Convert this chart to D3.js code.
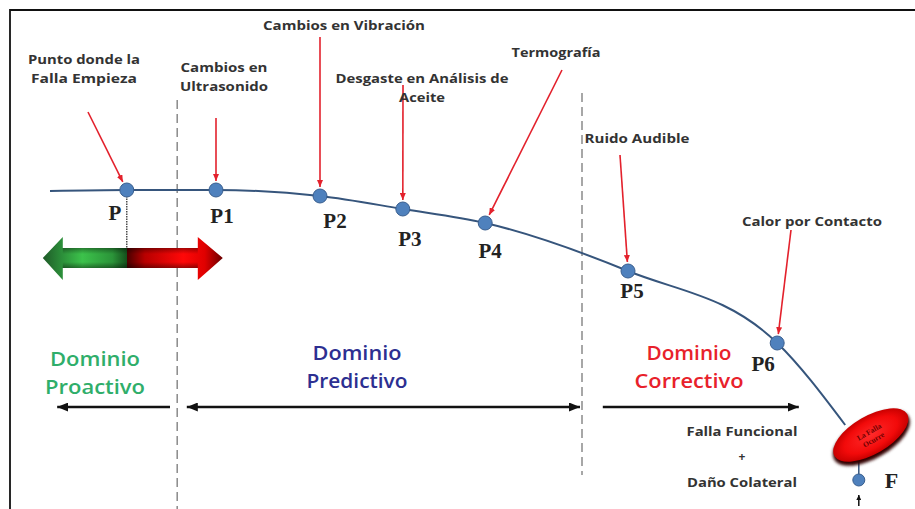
<!DOCTYPE html>
<html><head><meta charset="utf-8">
<script src="https://cdn.jsdelivr.net/npm/d3@7"></script>
<style>body{margin:0;background:#fff}svg{display:block}</style>
</head><body>
<svg id="chart" width="915" height="509"></svg>
<script>
// ---- data (time 0..100, condition 0..100) ----
const curveTime = [0, 9.6, 20.75, 33.75, 44.1, 54.4, 72.25, 90.9, 99.4];
const curveCondition = [99.6, 100, 100, 97.6, 92.4, 86.8, 67.6, 38.8, 6];
const pointLabels = ["P", "P1", "P2", "P3", "P4", "P5", "P6"];
const pointTime = [9.6, 20.75, 33.75, 44.1, 54.4, 72.25, 90.9];
const pointCondition = [100, 100, 97.6, 92.4, 86.8, 67.6, 38.8];
const annotationLines = [
  ["Punto donde la", "Falla Empieza"],
  ["Cambios en", "Ultrasonido"],
  ["Cambios en Vibración"],
  ["Desgaste en Análisis de", "Aceite"],
  ["Termografía"],
  ["Ruido Audible"],
  ["Calor por Contacto"]
];
const domainNames = [["Dominio", "Proactivo"], ["Dominio", "Predictivo"], ["Dominio", "Correctivo"]];
const domainColors = ["#2fae6a", "#2d2f91", "#e8212b"];
const domainBoundaries = [15.9, 66.5];
const failureTime = 101.1, failureCondition = -16;
const ellipseTime = 102.6, ellipseCondition = 2;
const failureText = ["La Falla", "Ocurre"];
const consequenceText = ["Falla Funcional", "+", "Daño Colateral"];

// ---- layout ----
const svg = d3.select("#chart");
const x = d3.scaleLinear().domain([0, 100]).range([50, 850]);
const y = d3.scaleLinear().domain([0, 100]).range([440, 190]);

const defs = svg.append("defs");
function marker(id, color, w, h) {
  defs.append("marker").attr("id", id).attr("markerUnits", "userSpaceOnUse")
    .attr("viewBox", `0 0 ${w} ${h}`).attr("refX", w).attr("refY", h / 2)
    .attr("markerWidth", w).attr("markerHeight", h).attr("orient", "auto-start-reverse")
    .append("path").attr("d", `M0,0L${w},${h / 2}L0,${h}Z`).attr("fill", color);
}
marker("redHead", "#e3212c", 7, 6);
marker("blackHead", "#111", 11, 9);
marker("smallBlack", "#111", 5, 5);

// border
svg.append("path").attr("d", "M10,509V10H915").attr("fill", "none").attr("stroke", "#111").attr("stroke-width", 1.8);

// dashed domain boundaries
const dashTop = [100, 93], dashBottom = [509, 475];
domainBoundaries.forEach((t, i) => {
  svg.append("line").attr("x1", x(t)).attr("x2", x(t)).attr("y1", dashTop[i]).attr("y2", dashBottom[i])
    .attr("stroke", "#8a8a8a").attr("stroke-width", 1.5).attr("stroke-dasharray", "9,5");
});

// green / red double arrow
const gH = defs.append("linearGradient").attr("id", "gh").attr("gradientUnits", "userSpaceOnUse")
  .attr("x1", x(-0.9)).attr("x2", x(21.6)).attr("y1", 0).attr("y2", 0);
const split = (x(pointTime[0]) - x(-0.9)) / (x(21.6) - x(-0.9));
[[0, "#1f5a28"], [0.1, "#2b8c39"], [0.22, "#3cc24b"], [split - 0.08, "#2b9439"], [split, "#14501c"],
 [split + 0.001, "#4a0000"], [split + 0.1, "#b80000"], [0.78, "#ff0808"], [0.9, "#e00000"], [1, "#6a0000"]]
  .forEach(s => gH.append("stop").attr("offset", s[0]).attr("stop-color", s[1]));
const gV = defs.append("linearGradient").attr("id", "gv").attr("x1", 0).attr("x2", 0).attr("y1", 0).attr("y2", 1);
[[0, "#000", 0.35], [0.3, "#000", 0], [0.7, "#000", 0], [1, "#000", 0.4]]
  .forEach(s => gV.append("stop").attr("offset", s[0]).attr("stop-color", s[1]).attr("stop-opacity", s[2]));
const ax0 = x(-0.9), ax1 = x(21.6), acy = 258;
const arrowPath = `M${ax0},${acy}L${ax0 + 20},${acy - 21}L${ax0 + 20},${acy - 10}L${ax1 - 25},${acy - 10}L${ax1 - 25},${acy - 21}L${ax1},${acy}L${ax1 - 25},${acy + 22}L${ax1 - 25},${acy + 10}L${ax0 + 20},${acy + 10}L${ax0 + 20},${acy + 22}Z`;
svg.append("path").attr("d", arrowPath).attr("fill", "url(#gh)");
svg.append("path").attr("d", `M${ax0 + 20},${acy - 10}H${ax1 - 25}V${acy + 10}H${ax0 + 20}Z`).attr("fill", "url(#gv)");
svg.append("line").attr("x1", x(pointTime[0])).attr("x2", x(pointTime[0]))
  .attr("y1", y(pointCondition[0]) + 6).attr("y2", acy - 10)
  .attr("stroke", "#222").attr("stroke-width", 1.2).attr("stroke-dasharray", "1.5,1");

// P-F curve
const pts = curveTime.map((t, i) => [x(t), y(curveCondition[i])]);
svg.append("path").attr("d", d3.line().curve(d3.curveMonotoneX)(pts))
  .attr("fill", "none").attr("stroke", "#36557c").attr("stroke-width", 2);

// failure ellipse
const ex = x(ellipseTime), ey = y(ellipseCondition);
const rg = defs.append("radialGradient").attr("id", "rg");
[[0, "#ff2a2a"], [0.7, "#f20a0a"], [1, "#c80000"]].forEach(s => rg.append("stop").attr("offset", s[0]).attr("stop-color", s[1]));
defs.append("filter").attr("id", "blur").append("feGaussianBlur").attr("stdDeviation", 1.5);
const fx = x(failureTime), fy = y(failureCondition);
svg.append("line").attr("x1", fx).attr("x2", fx).attr("y1", ey + 20).attr("y2", fy)
  .attr("stroke", "#36557c").attr("stroke-width", 1.5);
const eg = svg.append("g").attr("transform", `translate(${ex},${ey}) rotate(-30)`);
eg.append("ellipse").attr("cx", -1).attr("cy", 3).attr("rx", 43).attr("ry", 20).attr("fill", "#300").attr("filter", "url(#blur)");
eg.append("ellipse").attr("rx", 42).attr("ry", 19).attr("fill", "url(#rg)");
eg.selectAll("text.ft").data(failureText).join("text").attr("class", "ft")
  .attr("x", 0).attr("y", (d, i) => -1 + i * 9).attr("text-anchor", "middle")
  .attr("font-family", "Liberation Serif").attr("font-weight", "bold").attr("font-size", 7.5)
  .attr("fill", "#6e0000").text(d => d);

// F point
svg.append("circle").attr("cx", fx).attr("cy", fy).attr("r", 6).attr("fill", "#4f81bd").attr("stroke", "#3a5f8f");
svg.append("text").attr("x", fx + 26).attr("y", fy + 8).attr("font-family", "Liberation Serif")
  .attr("font-weight", "bold").attr("font-size", 22).attr("fill", "#222").text("F");
svg.append("line").attr("x1", fx).attr("x2", fx).attr("y1", 506).attr("y2", 495)
  .attr("stroke", "#111").attr("stroke-width", 1.5).attr("marker-end", "url(#smallBlack)");

// P points and labels
const labelDx = [-12, 6, 15, 7, 5, 4, -14];
const labelDy = [30, 33, 32, 37, 35, 27, 28];
pointTime.forEach((t, i) => {
  svg.append("circle").attr("cx", x(t)).attr("cy", y(pointCondition[i])).attr("r", 7)
    .attr("fill", "#4f81bd").attr("stroke", "#3a5f8f").attr("stroke-width", 1);
  svg.append("text").attr("x", x(t) + labelDx[i]).attr("y", y(pointCondition[i]) + labelDy[i])
    .attr("text-anchor", "middle").attr("font-family", "Liberation Serif").attr("font-weight", "bold")
    .attr("font-size", 21).attr("fill", "#222").text(pointLabels[i]);
});

// annotation arrows and labels
const annStart = [[88, 112], [216, 118], [320, 37], [403, 85], [562, 70], [620, 155], [791, 230]];
const annCenter = [84, 224, 344, 422, 556, 637, 812];
const annBaseline = [64, 72, 30, 83, 57, 143, 226];
const annWidths = [[112, 106], [87, 88], [162], [173, 46], [89], [105], [140]];
annotationLines.forEach((lines, i) => {
  const px = x(pointTime[i]), py = y(pointCondition[i]);
  const [sx, sy] = annStart[i];
  const dx = px - sx, dy = py - sy, L = Math.hypot(dx, dy);
  svg.append("line").attr("x1", sx).attr("y1", sy)
    .attr("x2", px - dx / L * 9).attr("y2", py - dy / L * 9)
    .attr("stroke", "#e3212c").attr("stroke-width", 1.6).attr("marker-end", "url(#redHead)");
  lines.forEach((s, j) => {
    svg.append("text").attr("x", annCenter[i]).attr("y", annBaseline[i] + j * 19)
      .attr("text-anchor", "middle").attr("font-family", "Open Sans").attr("font-weight", "bold")
      .attr("font-size", 12).attr("fill", "#333")
      .attr("textLength", annWidths[i][j]).attr("lengthAdjust", "spacingAndGlyphs").text(s);
  });
});

// consequence text
const consY = [436, 461, 487], consW = [111, 0, 110];
consequenceText.forEach((s, j) => {
  const t = svg.append("text").attr("x", 742).attr("y", consY[j]).attr("text-anchor", "middle")
    .attr("font-family", "Open Sans").attr("font-weight", "bold").attr("font-size", 12).attr("fill", "#333").text(s);
  if (consW[j]) t.attr("textLength", consW[j]).attr("lengthAdjust", "spacingAndGlyphs");
});

// domain names
const domainCenter = [95, 357, 689];
const domainBaseline = [366, 360, 360];
const domainW = [[90, 100], [89, 101], [85, 109]];
domainNames.forEach((lines, i) => {
  lines.forEach((s, j) => {
    svg.append("text").attr("x", domainCenter[i]).attr("y", domainBaseline[i] + j * 28)
      .attr("text-anchor", "middle").attr("font-family", "Open Sans").attr("font-weight", 600)
      .attr("font-size", 20).attr("fill", domainColors[i])
      .attr("textLength", domainW[i][j]).attr("lengthAdjust", "spacingAndGlyphs").text(s);
  });
});

// domain arrows
const domainFrom = [15, 17.1, 69.1], domainTo = [0.9, 66.25, 93.6];
const arrowY = 407;
domainFrom.forEach((t, i) => {
  const l = svg.append("line").attr("x1", x(t)).attr("x2", x(domainTo[i])).attr("y1", arrowY).attr("y2", arrowY)
    .attr("stroke", "#111").attr("stroke-width", 2.5).attr("marker-end", "url(#blackHead)");
  if (i === 1) l.attr("marker-start", "url(#blackHead)");
});
</script>
</body></html>
